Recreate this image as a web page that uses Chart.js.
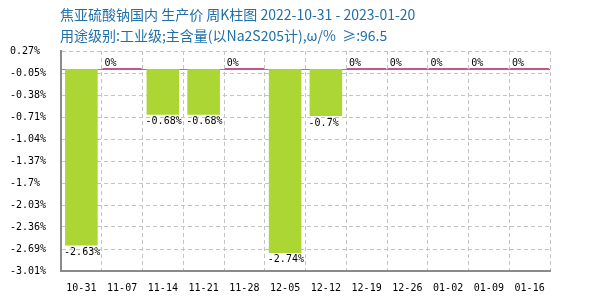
<!DOCTYPE html>
<html>
<head>
<meta charset="utf-8">
<script src="https://cdn.jsdelivr.net/npm/chart.js@4"></script>
<style>
    body { margin: 0; background: #fff; }
    #wrap { position: relative; width: 600px; height: 300px; }
    #title {
        position: absolute; left: 60px; top: 4px;
        font-family: "Noto Sans CJK SC", sans-serif; font-size: 14px;
        color: #1f6fa8; line-height: 21px; white-space: pre;
    }
</style>
</head>
<body>
<div id="wrap">
    <canvas id="chart" width="600" height="300"></canvas>
    <div id="title">焦亚硫酸钠国内 生产价 周K柱图 2022-10-31 - 2023-01-20
用途级别:工业级;主含量(以Na2S205计),ω/%  ≥:96.5</div>
</div>
<script>
const weeks = ['10-31', '11-07', '11-14', '11-21', '11-28', '12-05', '12-12', '12-19', '12-26', '01-02', '01-09', '01-16'];
const changes = [-2.63, 0, -0.68, -0.68, 0, -2.74, -0.7, 0, 0, 0, 0, 0];
const yTickLabels = ['0.27%', '-0.05%', '-0.38%', '-0.71%', '-1.04%', '-1.37%', '-1.7%', '-2.03%', '-2.36%', '-2.69%', '-3.01%'];
const yMax = 0.27;
const yMin = -3.01;

const monoFont = { family: '"DejaVu Sans Mono", monospace', size: 10 };
const gridColor = '#c4c4c4';
const axisColor = '#8a8a8a';

// zero values get a thin pink marker bar across the whole category
const zeroMarks = changes.map(v => v === 0 ? 0 : null);

const zeroLine = {
    id: 'zeroLine',
    beforeDatasetsDraw(chart) {
        const y = Math.round(chart.scales.y.getPixelForValue(0)) + 0.5;
        const ctx = chart.ctx;
        ctx.save();
        ctx.strokeStyle = axisColor;
        ctx.lineWidth = 1;
        ctx.beginPath();
        ctx.moveTo(chart.chartArea.left, y);
        ctx.lineTo(chart.chartArea.right, y);
        ctx.stroke();
        ctx.restore();
    }
};

const valueLabels = {
    id: 'valueLabels',
    afterDatasetsDraw(chart) {
        const ctx = chart.ctx;
        const bars = chart.getDatasetMeta(0).data;
        const marks = chart.getDatasetMeta(1).data;
        const y0 = chart.scales.y.getPixelForValue(0);
        ctx.save();
        ctx.font = `${monoFont.size}px ${monoFont.family}`;
        ctx.fillStyle = '#000';
        ctx.textAlign = 'left';
        changes.forEach((v, i) => {
            if (v < 0) {
                const el = bars[i];
                ctx.textBaseline = 'top';
                ctx.fillText(v + '%', el.x - el.width / 2 - 1, el.y + 2);
            } else {
                const el = marks[i];
                ctx.textBaseline = 'bottom';
                ctx.fillText(v + '%', el.x - el.width / 2 + 2, y0 - 1);
            }
        });
        ctx.restore();
    }
};

new Chart(document.getElementById('chart'), {
    type: 'bar',
    data: {
        labels: weeks,
        datasets: [
            {
                data: changes,
                backgroundColor: '#acd633',
                barPercentage: 0.8,
                categoryPercentage: 1,
                grouped: false
            },
            {
                data: zeroMarks,
                backgroundColor: '#c0578e',
                barPercentage: 0.96,
                categoryPercentage: 1,
                minBarLength: 2,
                grouped: false
            }
        ]
    },
    options: {
        responsive: false,
        animation: false,
        devicePixelRatio: 1,
        layout: { padding: { top: 51, right: 50, left: 10, bottom: 0 } },
        plugins: {
            legend: { display: false },
            tooltip: { enabled: false }
        },
        scales: {
            x: {
                offset: true,
                grid: { offset: true, color: gridColor, drawTicks: false },
                border: { display: true, color: axisColor, width: 2, dash: [4, 3] },
                ticks: { color: '#000', font: monoFont, padding: 11, maxRotation: 0, autoSkip: false },
                afterFit: s => { s.height = 29; }
            },
            y: {
                min: yMin,
                max: yMax,
                grid: { color: gridColor, drawTicks: false },
                border: { display: true, color: axisColor, width: 2, dash: [4, 3] },
                ticks: {
                    color: '#000', font: monoFont, padding: 10, crossAlign: 'far',
                    callback: (v, i) => yTickLabels[i]
                },
                afterBuildTicks: s => {
                    s.ticks = yTickLabels.map((_, i) => ({ value: yMax - i * (yMax - yMin) / (yTickLabels.length - 1) }));
                },
                afterFit: s => { s.width = 51; }
            }
        }
    },
    plugins: [zeroLine, valueLabels]
});
</script>
</body>
</html>
